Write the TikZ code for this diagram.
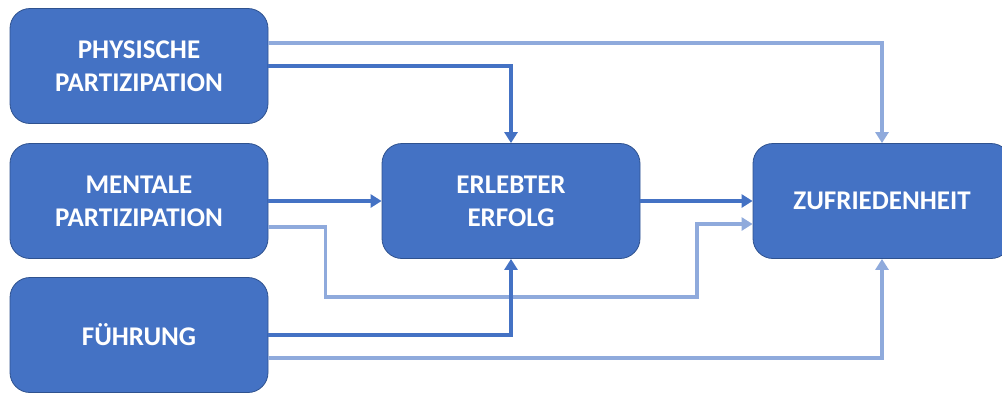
\documentclass[tikz,border=0pt]{standalone}
\usepackage{fontspec}
\setmainfont{Carlito}
\usetikzlibrary{arrows.meta}
\definecolor{boxblue}{HTML}{4472C4}
\definecolor{boxline}{HTML}{2F528F}
\definecolor{lightblue}{HTML}{8FAADC}
\begin{document}
\begin{tikzpicture}[x=1pt, y=-1pt,
	box/.style={draw=boxline, line width=0.8pt, fill=boxblue, rounded corners=20pt, minimum width=258pt, minimum height=115pt, text=white, font=\fontsize{27}{33}\selectfont\bfseries, align=center},
	darkline/.style={draw=boxblue, line width=3.5pt, -{Triangle[length=11pt,width=13pt]}},
	lightline/.style={draw=lightblue, line width=3.5pt, -{Triangle[length=11pt,width=13pt]}}]
		\useasboundingbox (0,0) rectangle (1002,392);
		% Boxes
		\node[box] (phys) at (139, 66) {PHYSISCHE\\PARTIZIPATION};
		\node[box] (ment) at (139, 201) {MENTALE\\PARTIZIPATION};
		\node[box] (fuehr) at (139, 335) {FÜHRUNG};
		\node[box] (erfolg) at (511, 201) {ERLEBTER\\ERFOLG};
		\node[box] (zufr) at (882, 201) {ZUFRIEDENHEIT};
		\coordinate (umweg) at (697, 297);
		
		% Physische Partizipation
		\draw[lightline] ([yshift=23pt]phys.east) -| (zufr.north);
		\draw[darkline] (phys.east) -| (erfolg.north);
		
		% Mentale Partizipation
		\draw[darkline] (ment.east) -- (erfolg.west);
		\draw[lightline] ([yshift=-26pt]ment.east) -- ++(57, 0) |- (umweg) |- ([yshift=-23pt]zufr.west);
		
		% Erlebter Erfolg
		\draw[darkline] (erfolg.east) -- (zufr.west);
		
		% Fuehrung
		\draw[darkline] (fuehr.east) -| (erfolg.south);
		\draw[lightline] ([yshift=-23pt]fuehr.east) -| (zufr.south);
		
	\end{tikzpicture}
\end{document}
